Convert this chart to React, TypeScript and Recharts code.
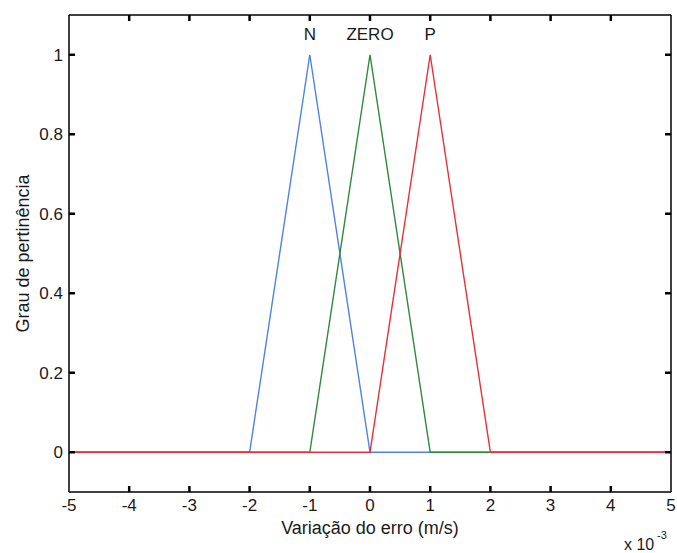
import React from 'react';
import { LineChart, Line, XAxis, YAxis, ReferenceDot, Label } from 'recharts';

const xTicks = [-5, -4, -3, -2, -1, 0, 1, 2, 3, 4, 5];
const yTicks = [0, 0.2, 0.4, 0.6, 0.8, 1];

// membership functions, sampled at their corners
const xN = [-5, -2, -1, 0, 5];
const yN = [0, 0, 1, 0, 0];
const xZero = [-5, -1, 0, 1, 5];
const yZero = [0, 0, 1, 0, 0];
const xP = [-5, 0, 1, 2, 5];
const yP = [0, 0, 1, 0, 0];

const setNames = ['N', 'ZERO', 'P'];
const setPeaks = [-1, 0, 1];

const X_DOMAIN = [-5, 5];
const Y_DOMAIN = [-0.1, 1.1];

const toPoints = (xs: number[], ys: number[]) => xs.map((x, i) => ({ x, y: ys[i] }));

const FONT = '"Liberation Sans", Arial, sans-serif';
const TXT = '#1a1a1a';
const AX = '#000';
const TICK = 6;

const BottomTick = (props: any) => {
  const { x, y, payload } = props;
  return (
    <text x={x} y={Number(y) + 19} textAnchor="middle" fontSize={17} fontFamily={FONT} fill={TXT}>
      {payload.value}
    </text>
  );
};

const LeftTick = (props: any) => {
  const { x, y, payload } = props;
  return (
    <text x={Number(x) - 6} y={Number(y) + 6} textAnchor="end" fontSize={17} fontFamily={FONT} fill={TXT}>
      {payload.value}
    </text>
  );
};

const frameAxis = { stroke: AX, strokeWidth: 1.5 };

// a short inward tick drawn from an anchor point on the frame
const tickShape = (dx: number, dy: number) => (p: any) => (
  <path d={`M${p.cx},${p.cy}l${dx},${dy}`} stroke={AX} strokeWidth={2.5} fill="none" />
);

export default function App() {
  const series = [
    { name: 'N', data: toPoints(xN, yN), color: '#4f82e3' },
    { name: 'ZERO', data: toPoints(xZero, yZero), color: '#2f8a3c' },
    { name: 'P', data: toPoints(xP, yP), color: '#e6313d' },
  ];

  const innerX = xTicks.filter((t) => t > X_DOMAIN[0] && t < X_DOMAIN[1]);

  const tickAnchors = [
    ...innerX.map((t) => ({ x: t, y: Y_DOMAIN[0], dx: 0, dy: -TICK })),
    ...innerX.map((t) => ({ x: t, y: Y_DOMAIN[1], dx: 0, dy: TICK })),
    ...yTicks.map((t) => ({ x: X_DOMAIN[0], y: t, dx: TICK, dy: 0 })),
    ...yTicks.map((t) => ({ x: X_DOMAIN[1], y: t, dx: -TICK, dy: 0 })),
  ];

  return (
    <div style={{ position: 'absolute', left: 0, top: 0, width: 677, height: 553, background: '#fff' }}>
      <LineChart width={677} height={553} margin={{ top: 14, right: 5, bottom: 0, left: 0 }}>
        <XAxis
          xAxisId={0}
          dataKey="x"
          type="number"
          domain={X_DOMAIN}
          ticks={xTicks}
          interval={0}
          allowDataOverflow
          height={61}
          tickSize={0}
          tickMargin={0}
          tickLine={false}
          axisLine={frameAxis}
          tick={<BottomTick />}
        >
          <Label
            content={(p: any) => {
              const vb = p.viewBox;
              return (
                <g fontFamily={FONT} fill={TXT}>
                  <text x={vb.x + vb.width / 2} y={vb.y + 42} textAnchor="middle" fontSize={18}>
                    Variação do erro (m/s)
                  </text>
                  <text x={624} y={550} fontSize={16}>x 10</text>
                  <text x={657} y={539} fontSize={11}>-3</text>
                </g>
              );
            }}
          />
        </XAxis>
        <XAxis
          xAxisId="top"
          orientation="top"
          dataKey="x"
          type="number"
          domain={X_DOMAIN}
          ticks={xTicks}
          allowDataOverflow
          height={1}
          tickLine={false}
          axisLine={frameAxis}
          tick={false}
        />
        <YAxis
          yAxisId={0}
          type="number"
          domain={Y_DOMAIN}
          ticks={yTicks}
          interval={0}
          allowDataOverflow
          width={69}
          tickSize={0}
          tickMargin={0}
          tickLine={false}
          axisLine={frameAxis}
          tick={<LeftTick />}
        >
          <Label
            content={(p: any) => {
              const vb = p.viewBox;
              const cy = vb.y + vb.height / 2;
              return (
                <text
                  x={23}
                  y={cy}
                  transform={`rotate(-90 23 ${cy})`}
                  textAnchor="middle"
                  dominantBaseline="central"
                  fontSize={18}
                  fontFamily={FONT}
                  fill={TXT}
                >
                  Grau de pertinência
                </text>
              );
            }}
          />
        </YAxis>
        <YAxis
          yAxisId="right"
          orientation="right"
          type="number"
          domain={Y_DOMAIN}
          ticks={yTicks}
          allowDataOverflow
          width={1}
          tickLine={false}
          axisLine={frameAxis}
          tick={false}
        />
        {/* invisible copy so the top/right frame axes have something to scale */}
        <Line
          xAxisId="top"
          yAxisId="right"
          data={series[0].data}
          dataKey="y"
          stroke="none"
          dot={false}
          activeDot={false}
          isAnimationActive={false}
        />
        {/* inward tick marks on all four sides */}
        {tickAnchors.map((a, i) => (
          <ReferenceDot
            key={`tk${i}`}
            x={a.x}
            y={a.y}
            r={0}
            ifOverflow="visible"
            shape={tickShape(a.dx, a.dy)}
          />
        ))}
        {series.map((s) => (
          <Line
            key={s.name}
            data={s.data}
            dataKey="y"
            type="linear"
            stroke={s.color}
            strokeWidth={1.4}
            dot={false}
            activeDot={false}
            isAnimationActive={false}
          />
        ))}
        {setNames.map((name, i) => (
          <ReferenceDot
            key={name}
            x={setPeaks[i]}
            y={1.05}
            r={0}
            shape={(p: any) => (
              <text
                x={p.cx}
                y={p.cy}
                textAnchor="middle"
                dominantBaseline="central"
                fontSize={17}
                fontFamily={FONT}
                fill={TXT}
              >
                {name}
              </text>
            )}
          />
        ))}
      </LineChart>
    </div>
  );
}
